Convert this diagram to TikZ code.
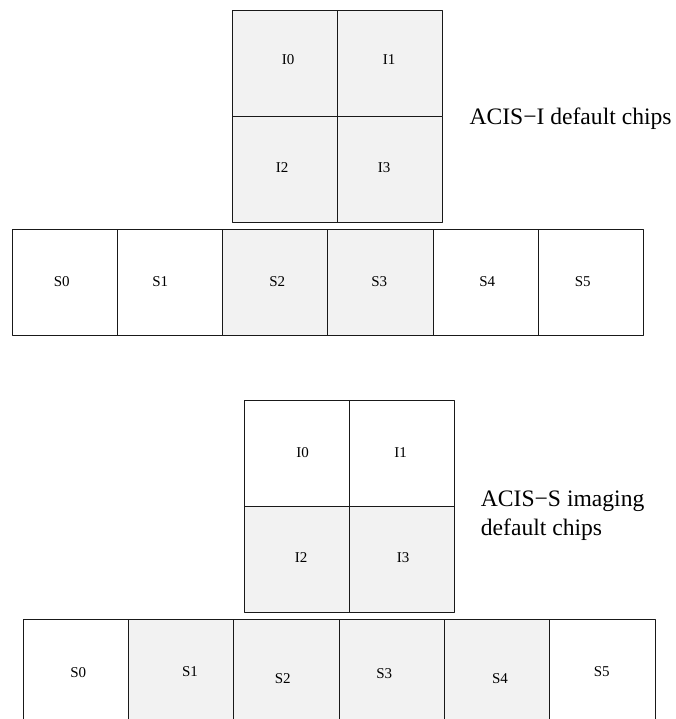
\documentclass[tikz,border=0pt]{standalone}
\usepackage{fontspec}
\setmainfont{Liberation Serif}
\begin{document}
\begin{tikzpicture}[x=1pt, y=-1pt, line join=round,
		chip/.style={draw=black!90, line width=0.9pt, minimum width=105.3pt, minimum height=105.8pt, inner sep=0pt, outer sep=0pt, anchor=north west},
		lit/.style={chip, fill=gray!10},
		tag/.style={font=\fontsize{15}{15}\selectfont, inner sep=0pt},
		caption/.style={font=\fontsize{23.6}{28.3}\selectfont, inner sep=0pt, anchor=base west, align=left}]
	\useasboundingbox (0,0) rectangle (675,719);
	\clip (0,0) rectangle (675,719);
	
	% ACIS-I default
	\node[lit] (ti0) at (232,10.7) {};
	\node[lit] (ti1) at (ti0.north east) {};
	\node[lit] (ti2) at (ti0.south west) {};
	\node[lit] (ti3) at (ti2.north east) {};
	\node[chip] (ts0) at (12,229.3) {};
	\node[chip] (ts1) at (ts0.north east) {};
	\node[lit] (ts2) at (ts1.north east) {};
	\node[lit] (ts3) at (ts2.north east) {};
	\node[chip] (ts4) at (ts3.north east) {};
	\node[chip] (ts5) at (ts4.north east) {};
	
	\node[tag] (ti0l) at (288,60) {I0};
	\node[tag] (ti1l) at (389,60) {I1};
	\node[tag] (ti2l) at (282,168) {I2};
	\node[tag] (ti3l) at (384,168) {I3};
	\node[tag] (ts0l) at (61.7,282) {S0};
	\node[tag] (ts1l) at (160.3,282) {S1};
	\node[tag] (ts2l) at (277.3,282) {S2};
	\node[tag] (ts3l) at (379.3,282) {S3};
	\node[tag] (ts4l) at (487.3,282) {S4};
	\node[tag] (ts5l) at (582.7,282) {S5};
	
	\node[caption] (capi) at (469.3,125) {ACIS−I default chips};
	
	% ACIS-S imaging default
	\node[chip] (bi0) at (244,400.7) {};
	\node[chip] (bi1) at (bi0.north east) {};
	\node[lit] (bi2) at (bi0.south west) {};
	\node[lit] (bi3) at (bi2.north east) {};
	\node[chip] (bs0) at (23.3,619.3) {};
	\node[lit] (bs1) at (bs0.north east) {};
	\node[lit] (bs2) at (bs1.north east) {};
	\node[lit] (bs3) at (bs2.north east) {};
	\node[lit] (bs4) at (bs3.north east) {};
	\node[chip] (bs5) at (bs4.north east) {};
	
	\node[tag] (bi0l) at (302.7,453) {I0};
	\node[tag] (bi1l) at (400.7,453) {I1};
	\node[tag] (bi2l) at (301,558) {I2};
	\node[tag] (bi3l) at (403,558) {I3};
	\node[tag] (bs0l) at (78.3,673) {S0};
	\node[tag] (bs1l) at (190,672) {S1};
	\node[tag] (bs2l) at (282.7,679) {S2};
	\node[tag] (bs3l) at (384.3,674) {S3};
	\node[tag] (bs4l) at (500,679) {S4};
	\node[tag] (bs5l) at (601.7,672) {S5};
	
	\node[caption] (caps) at (480.7,535) {ACIS−S imaging\\default chips};
\end{tikzpicture}
\end{document}
